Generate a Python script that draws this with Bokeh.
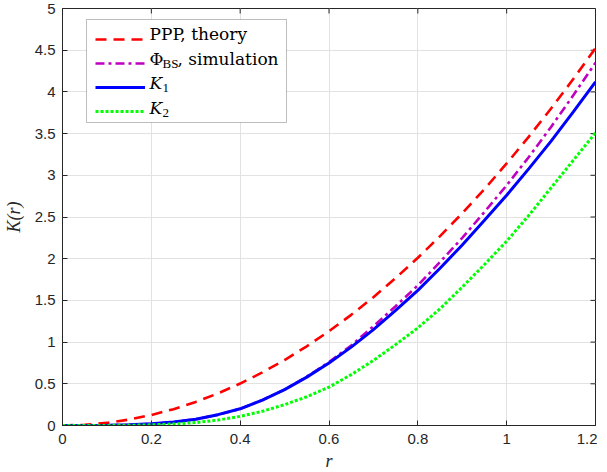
import math
from bokeh.plotting import figure
from bokeh.models import (FixedTicker, Legend, LegendItem, Label, Range1d, BoxAnnotation)
from bokeh.embed import file_html
from bokeh.resources import INLINE

# ---- data ----
r = [0, 0.05, 0.1, 0.15, 0.2, 0.25, 0.3, 0.35, 0.4, 0.45, 0.5, 0.55, 0.6,
     0.65, 0.7, 0.75, 0.8, 0.85, 0.9, 0.95, 1.0, 1.05, 1.1, 1.15, 1.2]
k_ppp = [0, 0.008, 0.031, 0.071, 0.126, 0.196, 0.283, 0.385, 0.503, 0.636, 0.785, 0.950, 1.131,
         1.327, 1.539, 1.767, 2.011, 2.270, 2.545, 2.835, 3.142, 3.464, 3.801, 4.155, 4.524]
k_bs = [0, 0.0003, 0.002, 0.008, 0.02, 0.042, 0.075, 0.13, 0.20, 0.305, 0.43, 0.585, 0.76,
        0.96, 1.19, 1.43, 1.68, 1.96, 2.25, 2.56, 2.88, 3.22, 3.58, 3.96, 4.35]
k_1 = [0, 0.0003, 0.002, 0.008, 0.02, 0.042, 0.075, 0.13, 0.20, 0.305, 0.43, 0.58, 0.75,
       0.94, 1.15, 1.38, 1.62, 1.885, 2.165, 2.46, 2.76, 3.08, 3.41, 3.76, 4.12]
k_2 = [0, 0.0001, 0.001, 0.003, 0.008, 0.018, 0.035, 0.065, 0.11, 0.17, 0.25, 0.345, 0.46,
       0.61, 0.78, 0.97, 1.17, 1.40, 1.66, 1.93, 2.21, 2.52, 2.85, 3.18, 3.51]

x_ticks = [0, 0.2, 0.4, 0.6, 0.8, 1.0, 1.2]
x_tick_labels = ["0", "0.2", "0.4", "0.6", "0.8", "1", "1.2"]
y_ticks = [0, 0.5, 1, 1.5, 2, 2.5, 3, 3.5, 4, 4.5, 5]
y_tick_labels = ["0", "0.5", "1", "1.5", "2", "2.5", "3", "3.5", "4", "4.5", "5"]

x_label = "r"
y_label = "K(r)"

DARK = "#262626"
GRID = "#e2e2e2"
SERIF = "Liberation Serif"
LSERIF = "DejaVu Serif"
SANS = "Liberation Sans"

p = figure(frame_width=533, frame_height=417, output_backend="svg", toolbar_location=None,
           x_range=Range1d(x_ticks[0], x_ticks[-1]), y_range=Range1d(y_ticks[0], y_ticks[-1]),
           min_border_left=56, min_border_right=2, min_border_top=8, min_border_bottom=10)
p.background_fill_color = "white"
p.border_fill_color = "white"
p.outline_line_color = DARK

xa = p.xaxis[0]
ya = p.yaxis[0]
xa.ticker = FixedTicker(ticks=x_ticks)
ya.ticker = FixedTicker(ticks=y_ticks)
xa.major_label_overrides = {t: s for t, s in zip(x_ticks, x_tick_labels)}
ya.major_label_overrides = {t: s for t, s in zip(y_ticks, y_tick_labels)}
for ax in (xa, ya):
    ax.axis_line_color = DARK
    ax.major_tick_line_color = DARK
    ax.major_tick_in = 5
    ax.major_tick_out = 0
    ax.minor_tick_line_color = None
    ax.major_label_text_font = SANS
    ax.major_label_text_font_size = "15px"
    ax.major_label_text_color = DARK
    ax.axis_label_text_font = SERIF
    ax.axis_label_text_font_style = "italic"
    ax.axis_label_text_font_size = "18px"
    ax.axis_label_text_color = DARK
xa.axis_label = x_label
ya.axis_label = y_label
xa.major_label_standoff = 8
xa.axis_label_standoff = 4
ya.major_label_standoff = 7
ya.axis_label_standoff = 8

p.xgrid.ticker = FixedTicker(ticks=x_ticks)
p.ygrid.ticker = FixedTicker(ticks=y_ticks)
p.xgrid.grid_line_color = GRID
p.ygrid.grid_line_color = GRID

# inward ticks on the top and right edges of the box
p.ray(x=x_ticks, y=[y_ticks[-1]] * len(x_ticks), length=5, length_units="screen",
      angle=-math.pi / 2, line_color=DARK, line_width=1)
p.ray(x=[x_ticks[-1]] * len(y_ticks), y=y_ticks, length=5, length_units="screen",
      angle=math.pi, line_color=DARK, line_width=1)

# legend box: white fill with dark border (hides the grid lines)
LG_LEFT, LG_BOTTOM, LG_W, LG_H = 24, 303, 200, 103
p.add_layout(BoxAnnotation(left=LG_LEFT, right=LG_LEFT + LG_W, bottom=LG_BOTTOM,
                           top=LG_BOTTOM + LG_H, left_units="screen", right_units="screen",
                           bottom_units="screen", top_units="screen",
                           fill_color="white", fill_alpha=1, line_color=DARK, line_width=1,
                           level="glyph"))

r1 = p.line(r, k_ppp, line_color="#ff0000", line_width=2.6, line_dash="11 7")
r2 = p.line(r, k_bs, line_color="#c000c0", line_width=2.6, line_dash="9 4 3 4")
r3 = p.line(r, k_1, line_color="#0000ff", line_width=3)
r4 = p.line(r, k_2, line_color="#00ff00", line_width=3, line_dash="3 2")

legend = Legend(items=[LegendItem(label=" ", renderers=[rr]) for rr in (r1, r2, r3, r4)],
                location=(LG_LEFT + 9, LG_BOTTOM + 1), orientation="vertical", padding=6, spacing=4,
                glyph_width=50, glyph_height=20, label_standoff=5, label_width=120,
                label_height=20, label_text_font_size="10px", margin=0,
                border_line_color=None, background_fill_alpha=0)
p.add_layout(legend)

# legend texts (with sub-scripts)
lx = LG_LEFT + 63
ly = [392, 367, 343, 318]
def lab(text, x, y, size="17px", style="normal", font=LSERIF):
    p.add_layout(Label(x=x, y=y, x_units="screen", y_units="screen", text=text,
                       text_font=font, text_font_size=size, text_font_style=style,
                       text_baseline="middle", text_align="left", text_color="black"))

lab("PPP, theory", lx, ly[0])
lab("Φ", lx, ly[1])
lab("BS", lx + 13, ly[1] - 5, size="13px", font=SERIF)
lab(", simulation", lx + 28, ly[1])
lab("K", lx, ly[2], style="italic")
lab("1", lx + 13, ly[2] - 5, size="13px", font=SERIF)
lab("K", lx, ly[3], style="italic")
lab("2", lx + 13, ly[3] - 5, size="13px", font=SERIF)

open("out.html", "w").write(file_html(p, INLINE))
